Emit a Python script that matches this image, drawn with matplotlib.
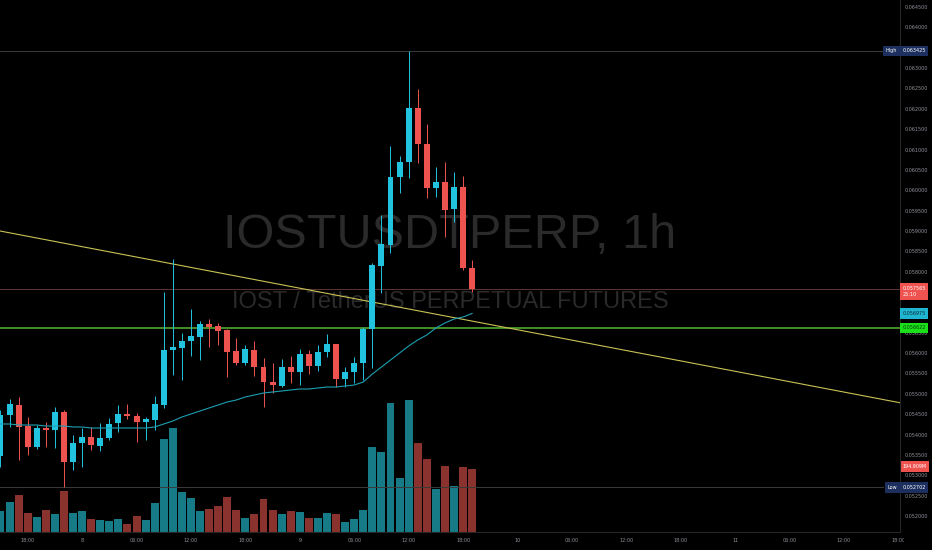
import numpy as np
import matplotlib.pyplot as plt
from matplotlib.patches import Rectangle

# hourly candles, 7th 15:00 -> 9th 19:00
opens = [0.053474, 0.054481, 0.054726, 0.054210, 0.053695, 0.054161, 0.054112, 0.054554, 0.053326, 0.053793,
         0.053940, 0.053719, 0.053916, 0.054284, 0.054505, 0.054456, 0.054309, 0.054358, 0.054726, 0.056077,
         0.056126, 0.056298, 0.056396, 0.056716, 0.056666, 0.056568, 0.056053, 0.055758, 0.056077, 0.055659,
         0.055291, 0.055193, 0.055659, 0.055537, 0.055979, 0.055684, 0.056028, 0.056224, 0.055365, 0.055537,
         0.055758, 0.056593, 0.058140, 0.058656, 0.060326, 0.060694, 0.062021, 0.061136, 0.060056, 0.060203,
         0.059540, 0.060080, 0.058091]
highs = [0.054603, 0.054874, 0.054923, 0.054431, 0.054235, 0.054309, 0.054677, 0.054603, 0.053989, 0.054161,
         0.054186, 0.054284, 0.054407, 0.054726, 0.054751, 0.054530, 0.054431, 0.054947, 0.057501, 0.058312,
         0.056495, 0.057084, 0.056789, 0.056838, 0.056740, 0.056593, 0.056372, 0.056200, 0.056298, 0.055881,
         0.055758, 0.055856, 0.055930, 0.056102, 0.056077, 0.056200, 0.056470, 0.056224, 0.055659, 0.055905,
         0.056642, 0.058214, 0.059393, 0.061087, 0.060842, 0.063425, 0.062487, 0.061628, 0.060571, 0.060694,
         0.060449, 0.060350, 0.058287]
lows = [0.053203, 0.054186, 0.053375, 0.053498, 0.053646, 0.053695, 0.053670, 0.052702, 0.053130, 0.053203,
        0.053621, 0.053596, 0.053867, 0.054063, 0.054382, 0.053817, 0.053867, 0.054112, 0.054653, 0.055463,
        0.055340, 0.055930, 0.055831, 0.056151, 0.056200, 0.055414, 0.055709, 0.055709, 0.055438, 0.054677,
        0.055021, 0.055168, 0.055267, 0.055217, 0.055488, 0.055561, 0.055905, 0.055168, 0.055168, 0.055267,
        0.055340, 0.055635, 0.057477, 0.058459, 0.059933, 0.060301, 0.060670, 0.059810, 0.059835, 0.058852,
        0.059221, 0.058042, 0.057501]
closes = [0.054481, 0.054751, 0.054186, 0.053695, 0.054161, 0.054112, 0.054554, 0.053326, 0.053793, 0.053940,
          0.053744, 0.053916, 0.054260, 0.054505, 0.054456, 0.054309, 0.054382, 0.054751, 0.056077, 0.056151,
          0.056298, 0.056421, 0.056716, 0.056642, 0.056544, 0.056028, 0.055758, 0.056102, 0.055659, 0.055291,
          0.055217, 0.055659, 0.055537, 0.055979, 0.055684, 0.056028, 0.056224, 0.055365, 0.055537, 0.055758,
          0.056593, 0.058165, 0.058680, 0.060326, 0.060694, 0.062021, 0.061136, 0.060056, 0.060203, 0.059515,
          0.060080, 0.058091, 0.057565]
volumes = [65, 94, 114, 59, 47, 68, 56, 127, 59, 65,
           39, 37, 34, 39, 25, 50, 37, 89, 286, 322,
           125, 104, 65, 71, 80, 107, 68, 44, 55, 101,
           68, 55, 65, 62, 42, 42, 59, 57, 30, 40,
           67, 263, 248, 400, 166, 408, 276, 225, 132, 204,
           143, 201, 194.909]  # millions
ma = [0.054260, 0.054260, 0.054235, 0.054235, 0.054235, 0.054210, 0.054210, 0.054210, 0.054186, 0.054186,
      0.054161, 0.054161, 0.054161, 0.054161, 0.054161, 0.054161, 0.054161, 0.054186, 0.054260, 0.054333,
      0.054431, 0.054505, 0.054579, 0.054653, 0.054726, 0.054800, 0.054849, 0.054923, 0.054972, 0.055021,
      0.055045, 0.055070, 0.055095, 0.055119, 0.055119, 0.055144, 0.055168, 0.055168, 0.055193, 0.055217,
      0.055291, 0.055488, 0.055659, 0.055831, 0.056003, 0.056175, 0.056323, 0.056445, 0.056617, 0.056740,
      0.056838, 0.056887, 0.056975]

time_labels = ['18:00', '8', '06:00', '12:00', '18:00', '9', '06:00', '12:00', '18:00',
               '10', '06:00', '12:00', '18:00', '11', '06:00', '12:00', '18:00']
first_tick = 3  # 18:00 on the 7th is the 4th candle

trend_x = [-0.05, 99.2]
trend_y = [0.05900, 0.05478]
level_green = 0.056622
high_val = 0.063425
low_val = 0.052702
last_price = 0.057565
ma_last = 0.056975
last_vol = '194.909M'
hidden_ticks = ['0.063500', '0.057500', '0.057000']  # sit under the price tags

UP = '#22c3df'
DOWN = '#ef5350'
VUP = '#167b86'
VDOWN = '#8a332e'
GRAY = '#8f929a'
WM = ['Liberation Sans', 'DejaVu Sans']

fig = plt.figure(figsize=(9.32, 5.5), dpi=100, facecolor='black')
rect = [0, 18 / 550, 900 / 932, 532 / 550]
vax = fig.add_axes(rect)
ax = fig.add_axes(rect, sharex=vax)
vax.set_zorder(0)
ax.set_zorder(1)
ax.patch.set_visible(False)
vax.axis('off')

n = len(closes)
x = np.arange(n)
up = np.array(closes) >= np.array(opens)

# watermark
vax.text(0.5, 0.558, 'IOSTUSDTPERP, 1h', transform=vax.transAxes, ha='center', va='center',
         fontsize=35, color='#2a2a2a', family=WM)
vax.text(0.5, 0.432, 'IOST / TetherUS PERPETUAL FUTURES', transform=vax.transAxes, ha='center',
         va='center', fontsize=17, color='#2a2a2a', family=WM)

# volume
vax.bar(x, volumes, width=0.88, color=[VUP if u else VDOWN for u in up], zorder=2)
vax.set_ylim(0, 1644)

# levels
ax.axhline(level_green, color='#4a9a2c', lw=1.3, zorder=1)
ax.axhline(last_price, color='#5c3434', lw=0.7, zorder=1)
ax.plot([-1, 97.3], [high_val, high_val], color='#3a3a3a', lw=0.7, zorder=1)
ax.plot([-1, 97.3], [low_val, low_val], color='#3a3a3a', lw=0.7, zorder=1)
ax.plot(trend_x, trend_y, color='#c9c254', lw=0.8, zorder=2)

# candles
cols = [UP if u else DOWN for u in up]
ax.vlines(x, lows, highs, colors=cols, lw=0.7, zorder=3)
body_lo = np.minimum(opens, closes)
body_h = np.maximum(np.abs(np.array(closes) - np.array(opens)), 0.00002)
ax.bar(x, body_h, bottom=body_lo, width=0.66, color=cols, zorder=4)
ax.plot(x, ma, color='#1d9fb2', lw=0.8, zorder=5)

ax.set_xlim(-0.05, 99.17)
ax.set_ylim(0.051607, 0.064673)

yt = np.arange(0.052, 0.06451, 0.0005)
ax.set_yticks(yt)
ylabels = ['%.6f' % v for v in yt]
ax.set_yticklabels(['' if s in hidden_ticks else s for s in ylabels])
ax.yaxis.tick_right()
xt = np.arange(first_tick, first_tick + 6 * len(time_labels), 6)
ax.set_xticks(xt)
ax.set_xticklabels(time_labels)
ax.tick_params(axis='both', length=0, labelsize=3.5, colors=GRAY)
ax.tick_params(axis='y', pad=3.5)
ax.tick_params(axis='x', pad=4.5)
for s in ['top', 'left']:
    ax.spines[s].set_visible(False)
for s in ['right', 'bottom']:
    ax.spines[s].set_color('#262626')
    ax.spines[s].set_linewidth(0.8)

# price axis tags
ytr = ax.get_yaxis_transform()
def tag(y, txt, fc, tc='white', xpos=1.0025, ha='left', va='center'):
    ax.text(xpos, y, txt, transform=ytr, ha=ha, va=va, fontsize=3.5, color=tc, zorder=10,
            clip_on=False, bbox=dict(boxstyle='square,pad=0.55', fc=fc, ec='none'))

tag(high_val, '%.6f' % high_val, '#1c2f5e')
tag(high_val, 'High', '#1c2f5e', xpos=0.997, ha='right')
tag(low_val, '%.6f' % low_val, '#1c2f5e')
tag(low_val, 'Low', '#1c2f5e', xpos=0.997, ha='right')
tag(last_price + 0.00008, '%.6f\n25:10' % last_price, DOWN, va='top')
tag(ma_last, '%.6f' % ma_last, '#1fb5d0', tc='#0b2a33')
tag(level_green, '%.6f' % level_green, '#19e019', tc='#0b3a0b')
vax.text(1.0025, volumes[-1] + 8, last_vol, transform=vax.get_yaxis_transform(), ha='left', va='center',
         fontsize=3.5, color='white', zorder=10, clip_on=False,
         bbox=dict(boxstyle='square,pad=0.55', fc=DOWN, ec='none'))

# cut the last time label at the price scale edge
fig.add_artist(Rectangle((904 / 932, 0), 28 / 932, 17 / 550, transform=fig.transFigure,
                         fc='black', ec='none', zorder=20))

fig.savefig('out.png', dpi=100, facecolor='black')
